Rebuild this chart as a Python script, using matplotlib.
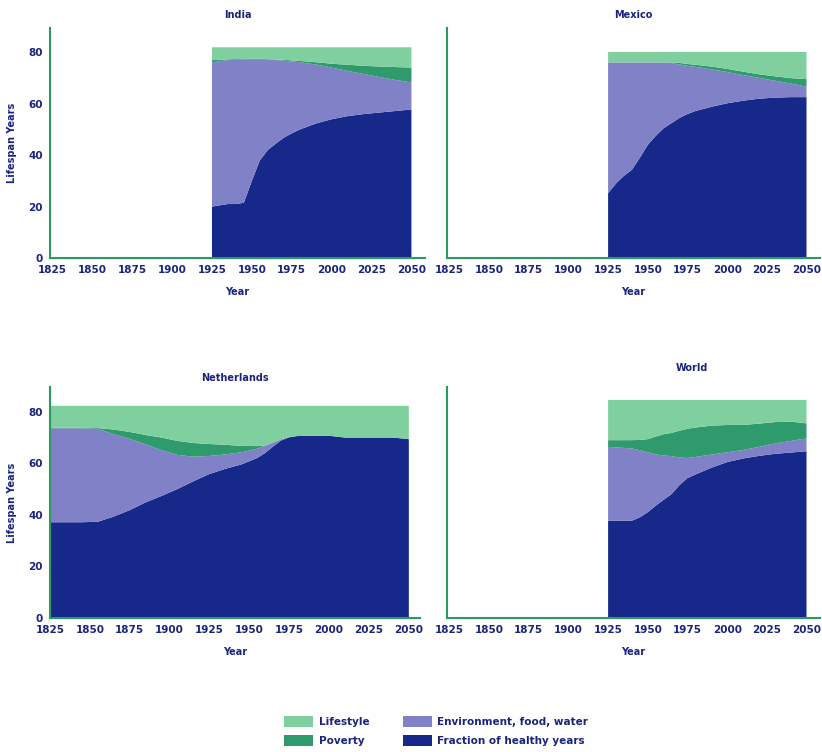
import matplotlib.pyplot as plt
from matplotlib.patches import Patch

# ---------- Data: years of life per component ----------
series_names = ["Fraction of healthy years", "Environment, food, water", "Poverty", "Lifestyle"]

india_years = [1925, 1930, 1935, 1940, 1945, 1950, 1955, 1960, 1965, 1970,
               1975, 1980, 1990, 2000, 2010, 2020, 2030, 2040, 2050]
india_healthy = [20.0, 20.5, 21.0, 21.0, 21.5, 30.0, 38.0, 42.0, 44.5, 46.8,
                 48.5, 50.0, 52.3, 54.0, 55.2, 56.0, 56.6, 57.2, 57.8]
india_env = [56.1, 56.1, 56.0, 56.1, 55.8, 47.4, 39.4, 35.3, 32.5, 30.0,
             28.0, 26.2, 23.0, 20.1, 17.6, 15.6, 13.8, 12.1, 10.5]
india_poverty = [0.9, 0.6, 0.3, 0.3, 0.2, 0.1, 0.1, 0.1, 0.2, 0.3,
                 0.4, 0.5, 0.9, 1.5, 2.4, 3.2, 4.1, 5.0, 5.8]
india_lifestyle = [5.0, 4.8, 4.7, 4.6, 4.5, 4.5, 4.5, 4.6, 4.8, 4.9,
                   5.1, 5.3, 5.8, 6.4, 6.8, 7.2, 7.5, 7.7, 7.9]

mexico_years = [1925, 1930, 1935, 1940, 1945, 1950, 1955, 1960, 1965, 1970,
                1975, 1980, 1990, 2000, 2010, 2020, 2030, 2040, 2050]
mexico_healthy = [25.2, 29.0, 32.0, 34.3, 39.0, 44.0, 47.5, 50.5, 52.5, 54.5,
                  56.0, 57.2, 58.8, 60.2, 61.2, 62.0, 62.4, 62.6, 62.6]
mexico_env = [50.9, 47.1, 44.1, 41.8, 37.1, 32.1, 28.6, 25.6, 23.3, 20.8,
              18.8, 17.2, 14.6, 12.2, 10.0, 8.1, 6.6, 5.3, 4.1]
mexico_poverty = [0.0, 0.0, 0.0, 0.0, 0.0, 0.0, 0.0, 0.0, 0.3, 0.6,
                  0.7, 0.8, 1.1, 1.2, 1.3, 1.4, 1.7, 2.1, 2.9]
mexico_lifestyle = [4.1, 4.1, 4.1, 4.1, 4.1, 4.1, 4.1, 4.1, 4.1, 4.3,
                    4.7, 5.0, 5.7, 6.6, 7.7, 8.7, 9.5, 10.2, 10.6]

nl_years = [1825, 1835, 1845, 1855, 1865, 1875, 1885, 1895, 1905, 1915, 1925, 1935, 1945,
            1955, 1960, 1965, 1970, 1975, 1980, 1990, 2000, 2010, 2020, 2030, 2040, 2050]
nl_healthy = [37.1, 37.1, 37.1, 37.3, 39.3, 41.8, 44.8, 47.3, 50.0, 53.0, 55.8, 57.8, 59.5,
              62.0, 64.0, 66.5, 68.8, 70.0, 70.5, 70.6, 70.6, 69.9, 69.9, 69.9, 69.9, 69.3]
nl_env = [36.4, 36.4, 36.4, 36.0, 31.9, 27.6, 22.5, 17.7, 13.2, 9.5, 7.0, 5.6, 4.7,
          3.6, 2.8, 1.5, 0.5, 0.1, 0.0, 0.0, 0.0, 0.0, 0.0, 0.0, 0.0, 0.0]
nl_poverty = [0.2, 0.2, 0.2, 0.3, 1.8, 2.7, 3.6, 4.9, 5.4, 5.3, 4.6, 3.7, 2.5,
              1.0, 0.0, 0.0, 0.0, 0.0, 0.0, 0.0, 0.0, 0.0, 0.0, 0.0, 0.0, 0.0]
nl_lifestyle = [8.5, 8.5, 8.5, 8.6, 9.2, 10.1, 11.3, 12.3, 13.6, 14.4, 14.8, 15.1, 15.5,
                15.6, 15.4, 14.2, 12.9, 12.1, 11.7, 11.6, 11.6, 12.3, 12.3, 12.3, 12.3, 12.9]

world_years = [1925, 1930, 1935, 1940, 1945, 1950, 1955, 1960, 1965, 1970,
               1975, 1980, 1990, 2000, 2010, 2020, 2030, 2040, 2050]
world_healthy = [37.7, 37.7, 37.7, 37.7, 39.0, 41.0, 43.5, 45.8, 48.0, 51.5,
                 54.2, 55.6, 58.2, 60.4, 61.8, 62.8, 63.6, 64.1, 64.6]
world_env = [28.6, 28.4, 28.2, 28.0, 26.0, 23.2, 19.9, 17.2, 14.7, 10.7,
             7.8, 6.8, 5.1, 3.8, 3.3, 3.5, 4.0, 4.5, 5.0]
world_poverty = [2.6, 2.8, 3.0, 3.2, 4.0, 5.1, 6.9, 8.2, 9.0, 10.4,
                 11.3, 11.4, 11.2, 10.6, 9.7, 9.0, 8.3, 7.5, 5.8]
world_lifestyle = [15.6, 15.6, 15.6, 15.6, 15.5, 15.2, 14.2, 13.3, 12.8, 11.9,
                   11.2, 10.7, 10.0, 9.7, 9.7, 9.2, 8.6, 8.4, 9.1]

year_ticks = [1825, 1850, 1875, 1900, 1925, 1950, 1975, 2000, 2025, 2050]
value_ticks = [0, 20, 40, 60, 80]

# ---------- Styles ----------
colors = ["#16288a", "#8081c6", "#2f9a6c", "#7fd09e"]
navy = "#1a237e"
spine_green = "#2a9a60"

W, H = 822, 752
fig = plt.figure(figsize=(W / 100, H / 100), dpi=100)


def add_panel(left, top, right, bottom):
    return fig.add_axes([left / W, 1 - bottom / H, (right - left) / W, (bottom - top) / H])


# name, axes, years, layers, y labels?, title position, x range
panels = [
    ("India", add_panel(50, 28, 425, 258), india_years,
     [india_healthy, india_env, india_poverty, india_lifestyle], True, (0.5, 1.057), (1823.5, 2058.5)),
    ("Mexico", add_panel(447, 28, 820, 258), mexico_years,
     [mexico_healthy, mexico_env, mexico_poverty, mexico_lifestyle], False, (0.5, 1.057), (1823.5, 2058.5)),
    ("Netherlands", add_panel(50, 387, 420, 618), nl_years,
     [nl_healthy, nl_env, nl_poverty, nl_lifestyle], True, (0.5, 1.04), (1825, 2057)),
    ("World", add_panel(447, 387, 820, 618), world_years,
     [world_healthy, world_env, world_poverty, world_lifestyle], False, (0.656, 1.083), (1823.5, 2058.5)),
]

for name, ax, years, layers, show_y, title_pos, xr in panels:
    ax.stackplot(years, *layers, colors=colors, linewidth=0)
    ax.set_xlim(*xr)
    ax.set_ylim(0, 89.5)
    ax.set_xticks(year_ticks)
    ax.set_yticks(value_ticks)
    ax.tick_params(length=0, colors=navy, labelsize=7.5, pad=5)
    for lbl in ax.get_xticklabels() + ax.get_yticklabels():
        lbl.set_fontweight("bold")
    for side in ["top", "right"]:
        ax.spines[side].set_visible(False)
    for side in ["left", "bottom"]:
        ax.spines[side].set_color(spine_green)
        ax.spines[side].set_linewidth(1.5)
    ax.text(title_pos[0], title_pos[1], name, transform=ax.transAxes, ha="center",
            va="center", color=navy, fontsize=7, fontweight="bold")
    ax.set_xlabel("Year", color=navy, fontsize=7, fontweight="bold", labelpad=9)
    if show_y:
        ax.set_ylabel("Lifespan Years", color=navy, fontsize=7, fontweight="bold", labelpad=8)
    else:
        ax.set_yticklabels([])

# ---------- Legend ----------
handles = [Patch(facecolor=colors[3], label=series_names[3]),
           Patch(facecolor=colors[2], label=series_names[2]),
           Patch(facecolor=colors[1], label=series_names[1]),
           Patch(facecolor=colors[0], label=series_names[0])]
leg = fig.legend(handles=handles, loc="center", bbox_to_anchor=(436 / W, 1 - 731 / H), ncol=2,
                 frameon=False, fontsize=7.5, handlelength=2.8, handleheight=1.2,
                 columnspacing=3.2, labelspacing=0.75, handletextpad=0.5)
for t in leg.get_texts():
    t.set_color(navy)
    t.set_fontweight("bold")

plt.savefig("out.png", dpi=100)
